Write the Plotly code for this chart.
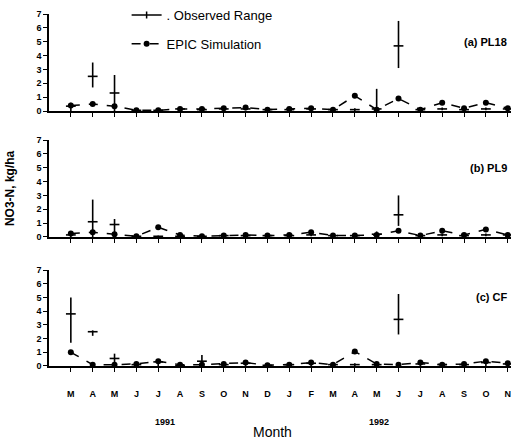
import plotly.graph_objects as go

months = ["M","A","M","J","J","A","S","O","N","D","J","F","M","A","M","J","J","A","S","O","N"]
x = list(range(len(months)))

# (a) PL18
epic_a = [0.4, 0.5, 0.35, 0.05, 0.05, 0.15, 0.15, 0.2, 0.25, 0.1, 0.15, 0.2, 0.1, 1.1, 0.1, 0.9, 0.1, 0.6, 0.2, 0.6, 0.2]
obs_a  = [0.35, 2.5, 1.3, 0.05, 0.05, 0.15, 0.1, 0.15, 0.15, 0.1, 0.1, 0.15, 0.1, 0.1, 0.15, 4.7, 0.1, 0.15, 0.1, 0.15, 0.15]
lo_a   = [0.0, 1.7, 0.0, 0.0, 0.0, 0.05, 0.0, 0.05, 0.05, 0.0, 0.0, 0.05, 0.0, 0.0, 0.0, 3.1, 0.0, 0.05, 0.0, 0.05, 0.05]
hi_a   = [0.6, 3.5, 2.6, 0.1, 0.1, 0.25, 0.2, 0.25, 0.25, 0.2, 0.2, 0.25, 0.2, 0.2, 1.6, 6.5, 0.2, 0.25, 0.2, 0.25, 0.25]

# (b) PL9
epic_b = [0.25, 0.35, 0.2, 0.05, 0.7, 0.15, 0.05, 0.1, 0.15, 0.1, 0.15, 0.35, 0.1, 0.1, 0.15, 0.45, 0.1, 0.45, 0.15, 0.55, 0.15]
obs_b  = [0.15, 1.1, 0.9, 0.05, 0.05, 0.05, 0.05, 0.1, 0.1, 0.1, 0.1, 0.15, 0.1, 0.1, 0.2, 1.6, 0.1, 0.15, 0.1, 0.15, 0.15]
lo_b   = [0.0, 0.0, 0.0, 0.0, 0.0, 0.0, 0.0, 0.0, 0.0, 0.0, 0.0, 0.05, 0.0, 0.0, 0.0, 0.8, 0.0, 0.05, 0.0, 0.05, 0.05]
hi_b   = [0.3, 2.7, 1.3, 0.1, 0.1, 0.1, 0.1, 0.2, 0.2, 0.2, 0.2, 0.25, 0.2, 0.2, 0.4, 3.0, 0.2, 0.25, 0.2, 0.25, 0.25]

# (c) CF
epic_c = [1.0, 0.1, 0.1, 0.15, 0.35, 0.1, 0.1, 0.15, 0.25, 0.05, 0.1, 0.25, 0.1, 1.05, 0.15, 0.1, 0.25, 0.1, 0.15, 0.35, 0.2]
obs_c  = [3.8, 2.5, 0.55, 0.1, 0.3, 0.05, 0.35, 0.1, 0.2, 0.05, 0.1, 0.2, 0.1, 0.1, 0.1, 3.4, 0.15, 0.1, 0.1, 0.25, 0.15]
lo_c   = [1.7, 2.2, 0.0, 0.0, 0.0, 0.0, 0.0, 0.0, 0.0, 0.0, 0.0, 0.0, 0.0, 0.0, 0.0, 2.3, 0.0, 0.0, 0.0, 0.0, 0.0]
hi_c   = [5.0, 2.6, 0.9, 0.2, 0.45, 0.1, 0.8, 0.2, 0.3, 0.1, 0.2, 0.3, 0.2, 0.2, 0.2, 5.25, 0.3, 0.2, 0.2, 0.4, 0.3]

panels = [
    ("(a) PL18", epic_a, obs_a, lo_a, hi_a),
    ("(b) PL9", epic_b, obs_b, lo_b, hi_b),
    ("(c) CF", epic_c, obs_c, lo_c, hi_c),
]

FONT = "Liberation Sans, Arial, Helvetica, sans-serif"
fig = go.Figure()

for i, (label, ep, ob, lo, hi) in enumerate(panels):
    ax = "" if i == 0 else str(i + 1)
    fig.add_trace(go.Scatter(
        x=x, y=ob, mode="markers", xaxis="x" + ax, yaxis="y" + ax,
        marker=dict(symbol="line-ew", size=7, line=dict(width=1.6, color="black"), color="black"),
        error_y=dict(type="data", symmetric=False,
                     array=[h - m for h, m in zip(hi, ob)],
                     arrayminus=[m - l for m, l in zip(ob, lo)],
                     width=0, thickness=1.6, color="black"),
        showlegend=False, cliponaxis=False))
    fig.add_trace(go.Scatter(
        x=x, y=ep, mode="lines+markers", xaxis="x" + ax, yaxis="y" + ax,
        line=dict(color="black", width=1.5, dash="dash"),
        marker=dict(symbol="circle", size=6, color="black"),
        showlegend=False, cliponaxis=False))
    fig.add_annotation(text="<b>" + label + "</b>", xref="paper", yref="y" + ax,
                       x=0.995, y=5.0, xanchor="right", yanchor="middle",
                       showarrow=False, font=dict(family=FONT, size=11, color="black"))

# legend entries
fig.add_trace(go.Scatter(x=[None], y=[None], mode="lines+markers", name=". Observed Range",
                         line=dict(color="black", width=1.5),
                         marker=dict(symbol="line-ns", size=5, line=dict(width=1.5, color="black")),
                         legendgroup="o"))
fig.add_trace(go.Scatter(x=[None], y=[None], mode="lines+markers", name="EPIC Simulation",
                         line=dict(color="black", width=1.5, dash="dash"),
                         marker=dict(symbol="circle", size=6, color="black"),
                         legendgroup="e"))

domains = [[0.7244, 1.0], [0.3665, 0.642], [0.0, 0.2727]]
axis_common = dict(showline=True, linecolor="black", linewidth=1.5, ticks="outside",
                   ticklen=4, tickwidth=1.2, tickcolor="black", showgrid=False, zeroline=False,
                   tickfont=dict(family=FONT, size=9, color="black", weight="bold"))
layout = dict(width=511, height=441, margin=dict(l=49, r=0, t=14, b=75),
              paper_bgcolor="white", plot_bgcolor="white",
              font=dict(family=FONT, color="black"),
              showlegend=True,
              legend=dict(x=0.168, y=1.041, xanchor="left", yanchor="top",
                          bgcolor="rgba(0,0,0,0)", tracegroupgap=9,
                          font=dict(family=FONT, size=13, color="black")))
for i in range(3):
    ax = "" if i == 0 else str(i + 1)
    layout["xaxis" + ax] = dict(axis_common, domain=[0, 1], range=[-1.0, 20.15],
                                anchor="y" + ax, tickvals=x, ticktext=months,
                                showticklabels=(i == 2), ticklabelstandoff=14)
    layout["yaxis" + ax] = dict(axis_common, domain=domains[i], range=[0, 7],
                                anchor="x" + ax, tickvals=list(range(8)))
fig.update_layout(**layout)

fig.add_annotation(text="<b>NO3-N, kg/ha</b>", xref="paper", yref="paper", x=-0.084, y=0.506,
                   xanchor="center", yanchor="middle",
                   textangle=-90, showarrow=False, font=dict(family=FONT, size=12, color="black"))
fig.add_annotation(text="<b>1991</b>", xref="x3", yref="paper", x=4.3, y=-0.159,
                   xanchor="center", yanchor="middle",
                   showarrow=False, font=dict(family=FONT, size=9, color="black"))
fig.add_annotation(text="<b>1992</b>", xref="x3", yref="paper", x=14.1, y=-0.159,
                   xanchor="center", yanchor="middle",
                   showarrow=False, font=dict(family=FONT, size=9, color="black"))
fig.add_annotation(text="Month", xref="paper", yref="paper", x=0.483, y=-0.1875,
                   xanchor="center", yanchor="middle",
                   showarrow=False, font=dict(family=FONT, size=14, color="black"))

fig.write_html("out.html")
